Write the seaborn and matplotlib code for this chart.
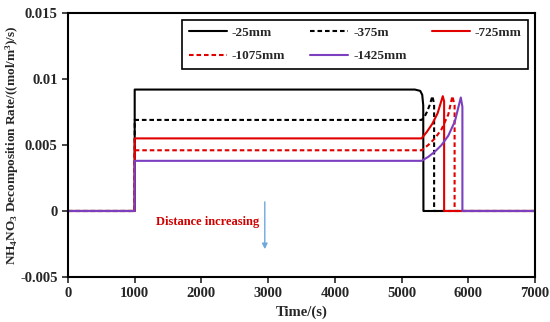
import matplotlib
matplotlib.use("Agg")
import matplotlib.pyplot as plt
import seaborn as sns
import pandas as pd

# Series (time in s, rate in (mol/m3)/s)
labels = ["-25mm", "-375m", "-725mm", "-1075mm", "-1425mm"]

t_25 = [0, 1000, 1000, 5200, 5280, 5310, 5325, 5328, 7000]
r_25 = [0, 0, 0.0092, 0.0092, 0.0091, 0.0088, 0.0080, 0, 0]

t_375 = [0, 1000, 1000, 5300, 5340, 5380, 5420, 5462, 5488, 5488, 7000]
r_375 = [0, 0, 0.0069, 0.0069, 0.0071, 0.0075, 0.0080, 0.0087, 0.0081, 0, 0]

t_725 = [0, 1000, 1000, 5300, 5380, 5460, 5540, 5618, 5638, 5638, 7000]
r_725 = [0, 0, 0.0055, 0.0055, 0.0060, 0.0066, 0.0074, 0.0087, 0.0083, 0, 0]

t_1075 = [0, 1000, 1000, 5300, 5400, 5500, 5600, 5700, 5762, 5795, 5795, 7000]
r_1075 = [0, 0, 0.0046, 0.0046, 0.0050, 0.0055, 0.0062, 0.0073, 0.0087, 0.0080, 0, 0]

t_1425 = [0, 1000, 1000, 5300, 5400, 5500, 5600, 5700, 5800, 5888, 5912, 5912, 7000]
r_1425 = [0, 0, 0.0038, 0.0038, 0.0041, 0.0045, 0.0050, 0.0057, 0.0068, 0.0086, 0.0079, 0, 0]

times = [t_25, t_375, t_725, t_1075, t_1425]
rates = [r_25, r_375, r_725, r_1075, r_1425]

colors = ["black", "black", "#e00000", "#e00000", "#7b3fbf"]
dash = (0, (2.2, 1.4))
styles = ["-", dash, "-", dash, "-"]

sns.set_style("ticks")
plt.rcParams["font.family"] = ["Liberation Serif", "DejaVu Serif"]
plt.rcParams["font.weight"] = "bold"
plt.rcParams["mathtext.fontset"] = "custom"
plt.rcParams["mathtext.rm"] = "Liberation Serif:bold"
plt.rcParams["mathtext.bf"] = "Liberation Serif:bold"
plt.rcParams["mathtext.it"] = "Liberation Serif:bold"

fig = plt.figure(figsize=(5.5, 3.22), dpi=100)
ax = fig.add_axes([0.1236, 0.1398, 0.8491, 0.8198])

handles = []
for lab, t, r, c, ls in zip(labels, times, rates, colors, styles):
    df = pd.DataFrame({"time": t, "rate": r})
    sns.lineplot(data=df, x="time", y="rate", sort=False, estimator=None,
                 color=c, linestyle=ls, linewidth=1.5, ax=ax)
    handles.append(ax.lines[-1])

ax.set_xlim(0, 7000)
ax.set_ylim(-0.005, 0.015)
ax.set_xticks(range(0, 7001, 1000))
ax.set_yticks([-0.005, 0, 0.005, 0.01, 0.015])
ax.set_yticklabels(["-0.005", "0", "0.005", "0.01", "0.015"])
ax.tick_params(direction="out", length=4, width=1.2, labelsize=10.5)
for s in ax.spines.values():
    s.set_visible(True)
    s.set_linewidth(1.5)
    s.set_color("black")

ax.set_xlabel("Time/(s)", fontsize=10.5, fontweight="bold")
ax.set_ylabel(r"NH$_{4}$NO$_{3}$ Decomposition Rate/((mol/m$^{3}$)/s)",
              fontsize=9.5, fontweight="bold")
ax.yaxis.set_label_coords(-0.1, 0.5)

# legend filled row-wise
order = [0, 3, 1, 4, 2]
leg = ax.legend([handles[i] for i in order], [labels[i] for i in order],
                ncol=3, loc="upper right", bbox_to_anchor=(0.985, 0.973),
                borderaxespad=0, fancybox=False, edgecolor="black",
                framealpha=1, handlelength=2.9, handletextpad=0.35,
                columnspacing=1.9, fontsize=9.5, borderpad=0.5,
                labelspacing=0.85)
leg.get_frame().set_linewidth(1.2)

ax.text(2870, -0.0008, "Distance increasing", color="#d00000",
        fontsize=9, fontweight="bold", ha="right", va="center")
ax.annotate("", xy=(2950, -0.0031), xytext=(2950, 0.0009),
            arrowprops=dict(arrowstyle="-|>", color="#6fa8dc", lw=1.0,
                            mutation_scale=8))

fig.savefig("out.png", dpi=100)
